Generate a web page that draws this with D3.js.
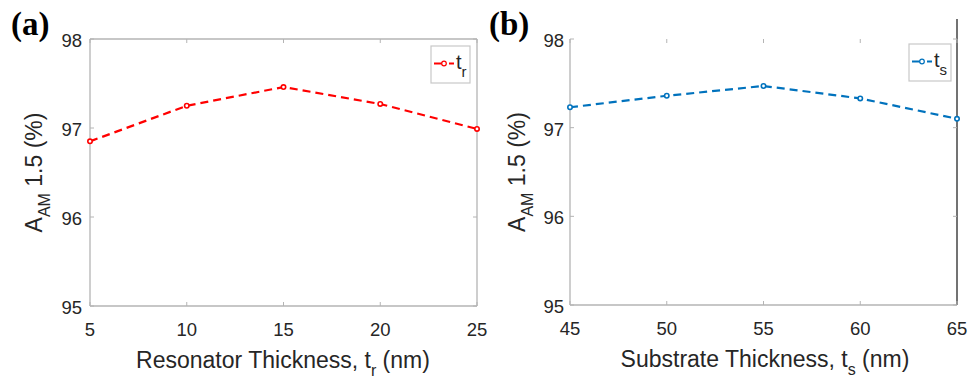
<!DOCTYPE html>
<html>
<head>
<meta charset="utf-8">
<script src="https://cdn.jsdelivr.net/npm/d3@7"></script>
<style>
  body { margin: 0; background: #fff; }
  svg { display: block; }
</style>
</head>
<body>
<svg id="chart" width="977" height="384"></svg>
<script>
// panel (a): resonator thickness
var resThickness = [5, 10, 15, 20, 25]
var resAbsorb = [96.85, 97.25, 97.46, 97.27, 96.99]
// panel (b): substrate thickness
var subThickness = [45, 50, 55, 60, 65]
var subAbsorb = [97.23, 97.36, 97.47, 97.33, 97.10]
var yTicks = [95, 96, 97, 98]

var sans = "'Liberation Sans', Arial, sans-serif"
var svg = d3.select("#chart")

function drawPanel(opts) {
  var g = svg.append("g").style("font-family", sans)
  var x = d3.scaleLinear().domain(opts.xDomain).range([opts.left, opts.right])
  var y = d3.scaleLinear().domain([95, 98]).range([opts.bottom, opts.top])
  var boxColor = "#b4b4b4"

  // box
  g.append("line").attr("x1", opts.left).attr("x2", opts.right)
    .attr("y1", opts.bottom).attr("y2", opts.bottom).attr("stroke", boxColor).attr("stroke-width", 1.3)
  g.append("line").attr("x1", opts.left).attr("x2", opts.left)
    .attr("y1", opts.top).attr("y2", opts.bottom).attr("stroke", boxColor).attr("stroke-width", 1.3)
  if (opts.topLine) {
    g.append("line").attr("x1", opts.left).attr("x2", opts.right)
      .attr("y1", opts.top).attr("y2", opts.top).attr("stroke", boxColor).attr("stroke-width", 1.3)
  }
  if (opts.darkRight) {
    g.append("line").attr("x1", opts.right).attr("x2", opts.right)
      .attr("y1", opts.top - 20).attr("y2", opts.bottom).attr("stroke", "#444").attr("stroke-width", 1.5)
  } else {
    g.append("line").attr("x1", opts.right).attr("x2", opts.right)
      .attr("y1", opts.top).attr("y2", opts.bottom).attr("stroke", boxColor).attr("stroke-width", 1.3)
  }

  // ticks (inside)
  g.selectAll(".xt").data(opts.xData).enter().append("line")
    .attr("x1", function(d) { return x(d) }).attr("x2", function(d) { return x(d) })
    .attr("y1", opts.bottom).attr("y2", opts.bottom - 4).attr("stroke", boxColor)
  g.selectAll(".xtt").data(opts.xData).enter().append("line")
    .attr("x1", function(d) { return x(d) }).attr("x2", function(d) { return x(d) })
    .attr("y1", opts.top).attr("y2", opts.top + 4).attr("stroke", boxColor)
  g.selectAll(".yt").data(yTicks).enter().append("line")
    .attr("x1", opts.left).attr("x2", opts.left + 4)
    .attr("y1", function(d) { return y(d) }).attr("y2", function(d) { return y(d) }).attr("stroke", boxColor)
  g.selectAll(".ytr").data(yTicks).enter().append("line")
    .attr("x1", opts.right).attr("x2", opts.right - 4)
    .attr("y1", function(d) { return y(d) }).attr("y2", function(d) { return y(d) }).attr("stroke", boxColor)

  // tick labels
  g.selectAll(".xl").data(opts.xData).enter().append("text")
    .attr("x", function(d) { return x(d) }).attr("y", opts.bottom + 30)
    .attr("text-anchor", "middle").attr("font-size", 18.5).attr("fill", "#262626")
    .text(function(d) { return d })
  g.selectAll(".yl").data(yTicks).enter().append("text")
    .attr("x", opts.left - opts.yLabelOff).attr("y", function(d) { return y(d) + 8 })
    .attr("text-anchor", "end").attr("font-size", 18.5).attr("fill", "#262626")
    .text(function(d) { return d })

  // axis titles
  var xt = g.append("text").attr("x", opts.xTitleX).attr("y", opts.bottom + 62)
    .attr("text-anchor", "middle").attr("font-size", 23).attr("fill", "#262626")
  xt.append("tspan").text(opts.xTitle + ", t")
  xt.append("tspan").attr("font-size", 16).attr("dy", 8).text(opts.sub)
  xt.append("tspan").attr("dy", -8).text(" (nm)")

  var yt = g.append("text")
    .attr("transform", "translate(" + (opts.left - opts.yTitleOff) + "," + ((opts.top + opts.bottom) / 2) + ") rotate(-90)")
    .attr("text-anchor", "middle").attr("font-size", 23).attr("fill", "#262626")
  yt.append("tspan").text("A")
  yt.append("tspan").attr("font-size", 16).attr("dy", 8).text("AM")
  yt.append("tspan").attr("dy", -8).text(" 1.5 (%)")

  // data line
  var line = d3.line().x(function(d) { return x(d[0]) }).y(function(d) { return y(d[1]) })
  var pts = d3.zip(opts.xData, opts.yData)
  g.append("path").datum(pts).attr("d", line).attr("fill", "none")
    .attr("stroke", opts.color).attr("stroke-width", 2.2).attr("stroke-dasharray", "8,5")
  g.selectAll(".pt").data(pts).enter().append("circle")
    .attr("cx", function(d) { return x(d[0]) }).attr("cy", function(d) { return y(d[1]) })
    .attr("r", 2.2).attr("fill", "#fff").attr("stroke", opts.color).attr("stroke-width", 1.6)

  // legend
  var lg = opts.legend
  g.append("rect").attr("x", lg.x).attr("y", lg.y).attr("width", lg.w).attr("height", lg.h)
    .attr("fill", "#fff").attr("stroke", "#c8c8c8").attr("stroke-width", 1.2)
  var ly = lg.y + lg.h / 2 - 1
  g.append("line").attr("x1", lg.x + 3).attr("x2", lg.x + 23).attr("y1", ly).attr("y2", ly)
    .attr("stroke", opts.color).attr("stroke-width", 2).attr("stroke-dasharray", "12,3,4,0")
  g.append("circle").attr("cx", lg.x + 13).attr("cy", ly).attr("r", 2.3)
    .attr("fill", "#fff").attr("stroke", opts.color).attr("stroke-width", 1.2)
  var lt = g.append("text").attr("x", lg.x + 25).attr("y", ly + 5)
    .attr("font-size", 20).attr("fill", "#262626")
  lt.append("tspan").text("t")
  lt.append("tspan").attr("font-size", 15).attr("dy", 8).text(opts.sub)

  // panel label
  svg.append("text").attr("x", opts.labelX).attr("y", 35)
    .style("font-family", "'Liberation Serif', 'Times New Roman', serif")
    .attr("font-weight", "bold").attr("font-size", 33).attr("fill", "#000")
    .text(opts.label)
}

drawPanel({
  xDomain: [5, 25], xData: resThickness, yData: resAbsorb,
  left: 90, right: 477, top: 39, bottom: 306,
  color: "#ff0000", sub: "r", xTitle: "Resonator Thickness", xTitleX: 283,
  yLabelOff: 8, yTitleOff: 48,
  topLine: true, darkRight: false,
  legend: { x: 431, y: 46, w: 39, h: 37 },
  label: "(a)", labelX: 11
})

drawPanel({
  xDomain: [45, 65], xData: subThickness, yData: subAbsorb,
  left: 570, right: 957, top: 39, bottom: 305,
  color: "#0072bd", sub: "s", xTitle: "Substrate Thickness", xTitleX: 765,
  yLabelOff: 6, yTitleOff: 45,
  topLine: false, darkRight: true,
  legend: { x: 909, y: 44, w: 42, h: 37 },
  label: "(b)", labelX: 489
})
</script>
</body>
</html>
